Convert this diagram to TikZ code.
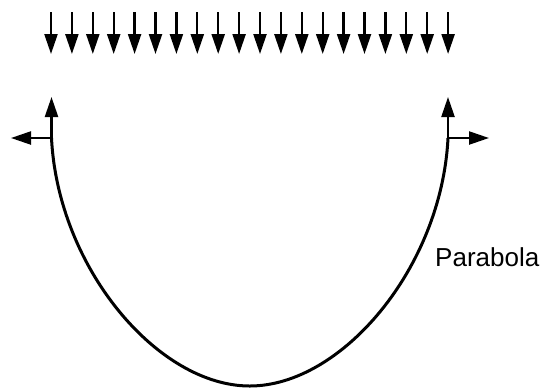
\documentclass[tikz,border=0pt]{standalone}
\usepackage{fontspec}
\setmainfont{Liberation Sans}
\usetikzlibrary{arrows.meta}
\begin{document}
\begin{tikzpicture}[x=1bp,y=-1bp,
  force/.style={line width=2.3bp,-{Triangle[width=13bp,length=20bp]}},
  curve/.style={line width=3bp},
  lbl/.style={font=\fontsize{26bp}{30bp}\selectfont,inner sep=0pt,anchor=base west}]
\useasboundingbox (0,0) rectangle (542,390);
% distributed load
\foreach \i in {0,...,19}{
  \coordinate (t\i) at ({51+\i*20.9},12);
  \coordinate (b\i) at ({51+\i*20.9},54);
  \draw[force] (t\i) -- (b\i);
}
% supports
\coordinate (L) at (51.5,138);
\coordinate (R) at (448,138);
\coordinate (Lup) at (51.5,97);
\coordinate (Rup) at (448,97);
\coordinate (Lout) at (11,138);
\coordinate (Rout) at (489,138);
\coordinate (B) at (249.75,386);
\draw[force] (L) -- (Lup);
\draw[force] (L) -- (Lout);
\draw[force] (R) -- (Rup);
\draw[force] (R) -- (Rout);
% cable
\draw[curve] (L) .. controls (58,268) and (158,386) .. (B)
                 .. controls (341.5,386) and (441.5,268) .. (R);
\node[lbl] (lab) at (435,266) {Parabola};
\end{tikzpicture}
\end{document}
